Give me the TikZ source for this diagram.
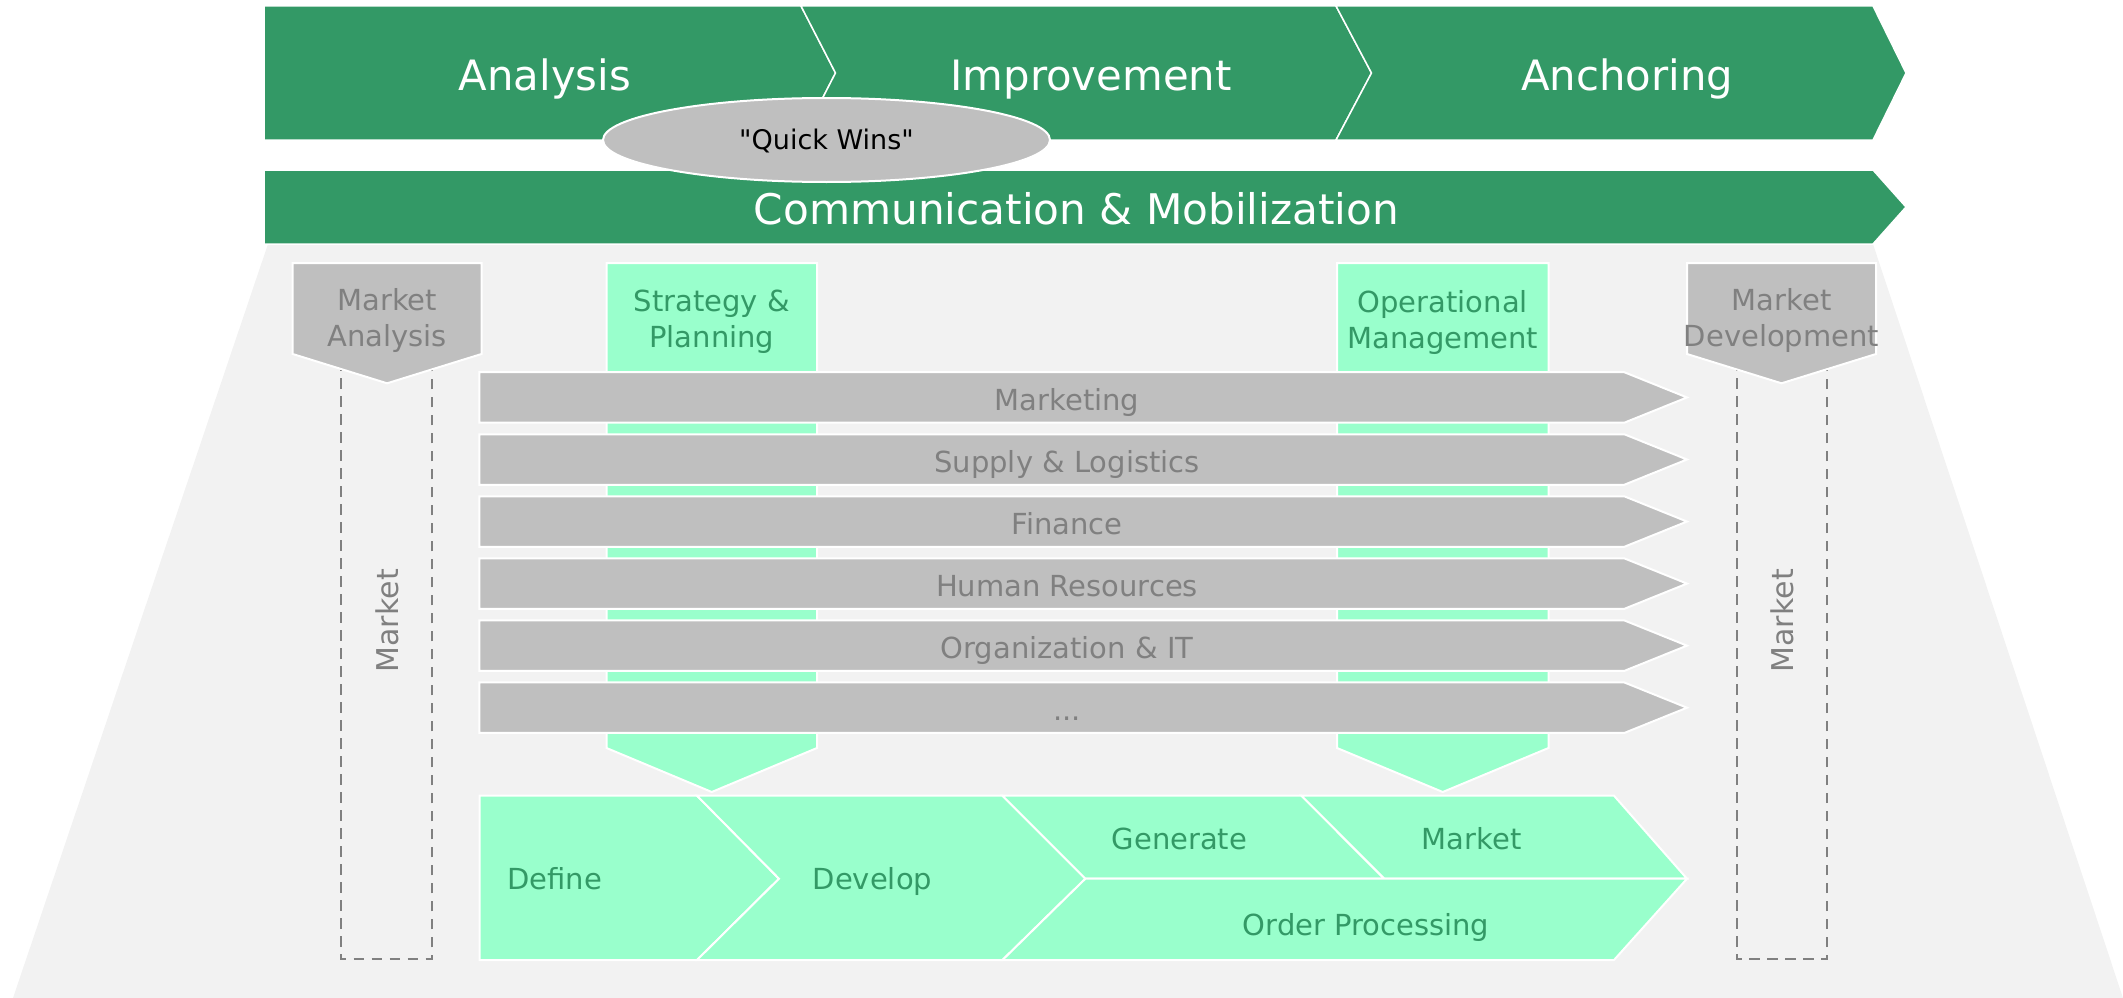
\documentclass[tikz,border=0pt]{standalone}
\usepackage{fontspec}
\setmainfont{DejaVu Sans}
\newfontfamily\plainquotes{DejaVu Sans}[Ligatures=TeXOff]
\definecolor{dkgreen}{HTML}{339966}
\definecolor{ltgreen}{HTML}{99FFCC}
\definecolor{midgray}{HTML}{BFBFBF}
\definecolor{bggray}{HTML}{F2F2F2}
\definecolor{txtgray}{HTML}{808080}
\newcommand\threedots{...}
\begin{document}
\begin{tikzpicture}[x=1pt,y=-1pt,
  band/.style={fill=dkgreen,draw=white,line width=1.5pt,line join=miter},
  graybox/.style={fill=midgray,draw=white,line width=2pt},
  greenbox/.style={fill=ltgreen,draw=white,line width=2pt},
  bigtext/.style={text=white,font=\fontsize{41.8}{50}\selectfont,anchor=base,inner sep=0pt},
  graytext/.style={text=txtgray,font=\fontsize{29}{36}\selectfont,inner sep=0pt},
  greentext/.style={text=dkgreen,font=\fontsize{29}{36}\selectfont,inner sep=0pt},
  dashbox/.style={draw=txtgray,line width=2pt,dash pattern=on 10.5pt off 7.5pt}
]
\path[use as bounding box] (0,0) rectangle (2123,998);
% background trapezoid
\fill[bggray] (268,244) -- (1873,244) -- (2123,998) -- (13,998) -- cycle;
% top phase band
\path[band] (264,6) -- (801,6) -- (835.5,73) -- (801,140) -- (264,140) -- cycle;
\path[band] (801,6) -- (1336,6) -- (1371.5,73) -- (1336,140) -- (801,140) -- (835.5,73) -- cycle;
\path[band] (1336,6) -- (1873,6) -- (1906,73) -- (1873,140) -- (1336,140) -- (1371.5,73) -- cycle;
% communication band
\path[band] (264,170) -- (1873,170) -- (1906,207) -- (1873,244) -- (264,244) -- cycle;
% quick wins ellipse
\path[fill=midgray,draw=white,line width=2pt] (826.5,140) ellipse [x radius=223.5,y radius=42];
% dashed market boxes
\draw[dashbox] (341,360) -- (341,959.3) -- (431.7,959.3) -- (431.7,360);
\draw[dashbox] (1736.7,360) -- (1736.7,959.3) -- (1827.3,959.3) -- (1827.3,360);
% market pentagons
\path[graybox] (292.7,263) -- (481.5,263) -- (481.5,354) -- (387.1,383.3) -- (292.7,354) -- cycle;
\path[graybox] (1687,263) -- (1876,263) -- (1876,354) -- (1781.5,383.3) -- (1687,354) -- cycle;
% green columns
\path[greenbox] (606.5,263) -- (817,263) -- (817,748) -- (711.75,792) -- (606.5,748) -- cycle;
\path[greenbox] (1337,263) -- (1548.5,263) -- (1548.5,748) -- (1442.75,792) -- (1337,748) -- cycle;
% function bars
\foreach \i/\t in {0/Marketing,1/Supply \& Logistics,2/Finance,3/Human Resources,4/Organization \& IT,5/\threedots}{
  \pgfmathsetmacro{\ytop}{372.2+62.05*\i}
  \pgfmathsetmacro{\ymid}{\ytop+25.25}
  \pgfmathsetmacro{\ybot}{\ytop+50.5}
  \path[graybox] (479.3,\ytop) -- (1624.3,\ytop) -- (1687,\ymid) -- (1624.3,\ybot) -- (479.3,\ybot) -- cycle;
  \node[graytext,anchor=base] (bar\i) at (1067,{\ymid+13}) {\t};
}
% process block
\path[greenbox] (479.5,795.7) -- (697,795.7) -- (779,878.7) -- (697,960) -- (479.5,960) -- cycle;
\path[greenbox] (697,795.7) -- (1002.5,795.7) -- (1085.4,878.7) -- (1002.5,960) -- (697,960) -- (779,878.7) -- cycle;
\path[greenbox] (1002.5,795.7) -- (1301.4,795.7) -- (1384.3,878.7) -- (1085.4,878.7) -- cycle;
\path[greenbox] (1301.4,795.7) -- (1614,795.7) -- (1687,878.7) -- (1384.3,878.7) -- cycle;
\path[greenbox] (1085.4,878.7) -- (1687,878.7) -- (1614,960) -- (1002.5,960) -- cycle;
% texts
\node[bigtext] (analysis) at (545,90) {Analysis};
\node[bigtext] (improvement) at (1091,90) {Improvement};
\node[bigtext] (anchoring) at (1627,90) {Anchoring};
\node[bigtext,font=\fontsize{42.2}{50}\selectfont] (comm) at (1076.5,224) {Communication \& Mobilization};
\node[anchor=base,font=\plainquotes\fontsize{27}{32}\selectfont,inner sep=0pt] (quickwins) at (826.5,149) {"Quick Wins"};
\node[graytext,align=center] (mktan) at (387.3,320.4) {Market\\Analysis};
\node[greentext,align=center] (strat) at (711.75,322) {Strategy \&\\Planning};
\node[greentext,align=center] (opman) at (1442.75,322.4) {Operational\\Management};
\node[graytext,align=center] (mktdev) at (1781.5,320.5) {Market\\Development};
\node[graytext,font=\fontsize{30}{36}\selectfont,rotate=90] (mktleft) at (387.5,620.8) {Market};
\node[graytext,font=\fontsize{30}{36}\selectfont,rotate=90] (mktright) at (1782,620.8) {Market};
\node[greentext,anchor=base] (define) at (554.8,889.3) {Define};
\node[greentext,anchor=base] (develop) at (872.5,889.3) {Develop};
\node[greentext,anchor=base] (generate) at (1179.4,849.3) {Generate};
\node[greentext,anchor=base] (market) at (1471.6,849.3) {Market};
\node[greentext,anchor=base] (orderproc) at (1366,935) {Order Processing};
\end{tikzpicture}
\end{document}
